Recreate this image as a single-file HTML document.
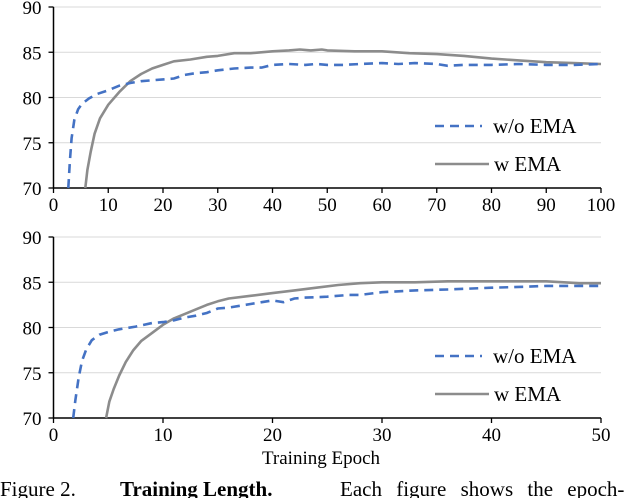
<!DOCTYPE html>
<html><head><meta charset="utf-8">
<style>
body{margin:0;background:#fff;overflow:hidden;}
svg{display:block;font-family:"Liberation Serif",serif;}
</style></head>
<body>
<svg id="fig" width="640" height="498" viewBox="0 0 640 498"></svg>
<script>
// Top panel data (epochs 0-100)
const topWoX=[2.7,3.0,3.3,3.8,4.5,5.2,6.5,8,10,12,14,16,18,20,22,24,26,28,30,33,36,38,40,43,46,48,50,53,56,60,63,66,70,72,75,80,85,90,95,100];
const topWoY=[70,73,75.5,77.5,78.7,79.3,79.9,80.4,80.8,81.3,81.6,81.8,81.9,82.0,82.1,82.5,82.7,82.8,83.0,83.2,83.3,83.3,83.6,83.7,83.6,83.7,83.6,83.6,83.7,83.8,83.7,83.8,83.7,83.5,83.6,83.6,83.7,83.6,83.6,83.7];
const topWX=[5.8,6.2,6.8,7.5,8.5,10,12,14,16,18,20,22,25,28,30,33,36,40,43,45,47,49,50,55,60,65,70,75,80,85,90,95,100];
const topWY=[70,72,74,76,77.7,79.2,80.6,81.8,82.6,83.2,83.6,84.0,84.2,84.5,84.6,84.9,84.9,85.1,85.2,85.3,85.2,85.3,85.2,85.1,85.1,84.9,84.8,84.6,84.3,84.1,83.9,83.8,83.7];
// Bottom panel data (epochs 0-50)
const botWoX=[1.8,2.0,2.3,2.6,3.0,3.5,4.2,5,6,7.5,9,10,11,12,13,14,15,16,17,18,19,20,21,22,23,25,27,28,30,33,36,40,43,45,48,50];
const botWoY=[70,72,74.5,76.3,77.6,78.6,79.2,79.5,79.8,80.1,80.5,80.6,80.8,81.1,81.3,81.6,82.1,82.2,82.4,82.6,82.8,83.0,82.8,83.2,83.3,83.4,83.6,83.6,83.9,84.1,84.2,84.4,84.5,84.6,84.6,84.6];
const botWX=[4.8,5.1,5.5,6,6.6,7.3,8,9,10,11,12,13,14,15,16,18,20,22,24,26,28,30,33,36,40,43,45,48,50];
const botWY=[70,71.8,73.2,74.7,76.2,77.5,78.5,79.4,80.3,81.0,81.5,82.0,82.5,82.9,83.2,83.5,83.8,84.1,84.4,84.7,84.9,85.0,85.0,85.1,85.1,85.1,85.1,84.9,84.9];
const yTicks=[70,75,80,85,90];
const topXTicks=[0,10,20,30,40,50,60,70,80,90,100];
const botXTicks=[0,10,20,30,40,50];
const legendLabels=["w/o EMA","w EMA"];

const NS="http://www.w3.org/2000/svg";
const svg=document.getElementById('fig');
function mk(tag,attrs,parent){const e=document.createElementNS(NS,tag);for(const k in attrs)e.setAttribute(k,attrs[k]);(parent||svg).appendChild(e);return e;}

function panel(name,x0,x1,xmax,y90,y70,xt,woX,woY,wX,wY,legY1,legY2){
  const g=mk('g',{});
  
  
  const sx=v=>x0+(x1-x0)*v/xmax;
  const sy=v=>y70+(y90-y70)*(v-70)/20;
  yTicks.forEach(t=>{
    if(t>70){const l=mk('line',{x1:x0,x2:x1,y1:sy(t),y2:sy(t),stroke:'#d9d9d9','stroke-width':1},g);
      
      }
    const tk=mk('line',{x1:x0-5,x2:x0,y1:sy(t),y2:sy(t),stroke:'#000','stroke-width':1.3},g);
    
    
    const tx=mk('text',{x:x0-12,y:sy(t)+7,'text-anchor':'end','font-size':19},g);tx.textContent=t;
    
    
  });
  xt.forEach(t=>{
    const tk=mk('line',{x1:sx(t),x2:sx(t),y1:y70,y2:y70+5,stroke:'#000','stroke-width':1.3},g);
    
    
    const tx=mk('text',{x:sx(t),y:y70+23,'text-anchor':'middle','font-size':19},g);tx.textContent=t;
    
    
  });
  const ya=mk('line',{x1:x0,x2:x0,y1:y90,y2:y70,stroke:'#000','stroke-width':1.5},g);
  
  
  const xa=mk('line',{x1:x0,x2:x1,y1:y70,y2:y70,stroke:'#000','stroke-width':1.5},g);
  
  
  const pts=(X,Y)=>X.map((v,i)=>sx(v).toFixed(1)+','+sy(Y[i]).toFixed(1)).join(' ');
  const w=mk('polyline',{points:pts(wX,wY),fill:'none',stroke:'#8c8c8c','stroke-width':2.6,'stroke-linejoin':'round'},g);
  
  
  const wo=mk('polyline',{points:pts(woX,woY),fill:'none',stroke:'#4472c4','stroke-width':2.6,'stroke-dasharray':'9,6'},g);
  
  
  const l1=mk('line',{x1:435,x2:482,y1:legY1,y2:legY1,stroke:'#4472c4','stroke-width':2.6,'stroke-dasharray':'9,6'},g);
  
  
  const t1=mk('text',{x:493,y:legY1+7,'font-size':21},g);t1.textContent=legendLabels[0];
  
  
  const l2=mk('line',{x1:435,x2:489,y1:legY2,y2:legY2,stroke:'#8c8c8c','stroke-width':2.6},g);
  
  
  const t2=mk('text',{x:494,y:legY2+7,'font-size':21},g);t2.textContent=legendLabels[1];
  
  
}
panel('top-chart',53.5,601,100,7,188,topXTicks,topWoX,topWoY,topWX,topWY,126,164);
panel('bottom-chart',53.5,601,50,237,418,botXTicks,botWoX,botWoY,botWX,botWY,356,394);
const xl=mk('text',{x:321,y:464,'text-anchor':'middle','font-size':19});xl.textContent='Training Epoch';


const c1=mk('text',{x:0,y:496,'font-size':21});c1.textContent='Figure 2.';


const c2=mk('text',{x:120,y:496,'font-size':21,'font-weight':'bold'});c2.textContent='Training Length.';


const c3=mk('text',{x:340,y:496,'font-size':21,'word-spacing':9});c3.textContent='Each figure shows the epoch-';


</script>
</body></html>
